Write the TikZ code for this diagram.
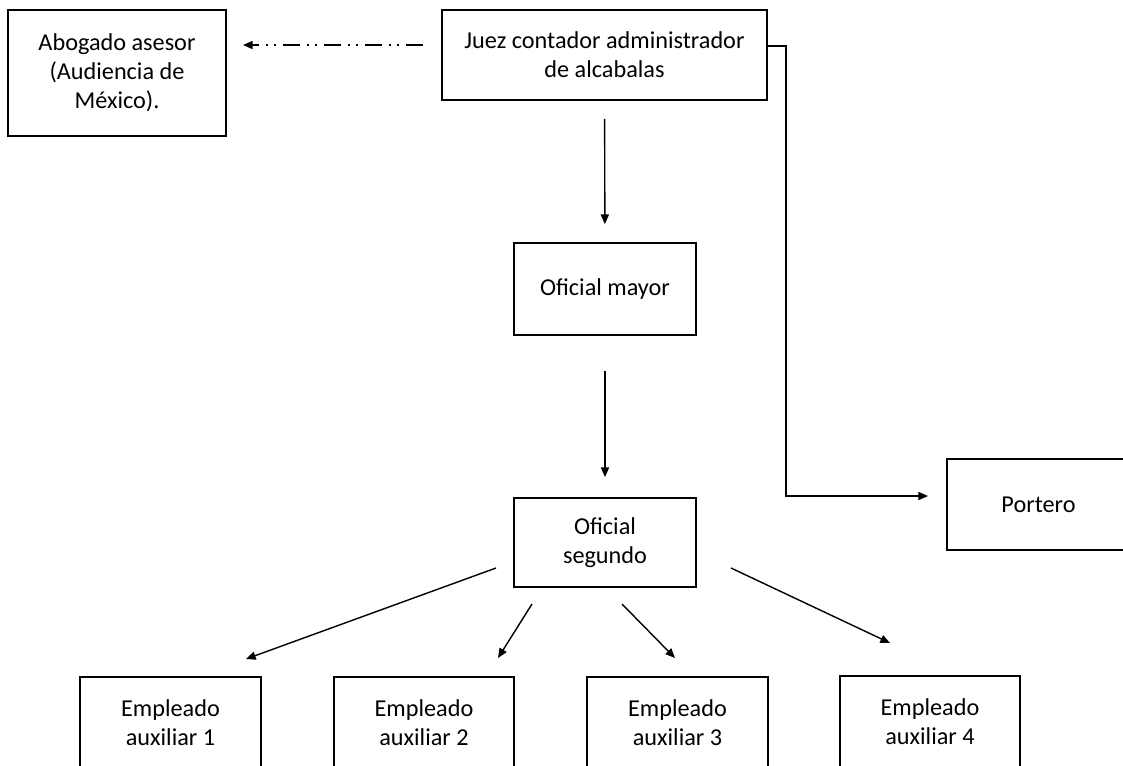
\documentclass[tikz,border=0pt]{standalone}
\usepackage{fontspec}
\setmainfont{Carlito}
\usetikzlibrary{arrows.meta}
\begin{document}
\begin{tikzpicture}[x=0.02cm,y=-0.02cm,
  box/.style={draw=black, line width=1pt, align=center, inner sep=0pt,
    font=\fontsize{13.8}{16.4}\selectfont},
  arr/.style={line width=0.8pt, -{Triangle[length=5.5pt,width=4.6pt]}},
  dashdotdot/.style={line width=0.8pt,
    dash pattern=on 0.34cm off 0.14cm on 0.04cm off 0.12cm on 0.04cm off 0.14cm}]
\useasboundingbox (0,0) rectangle (1123,765);
\clip (0,0) rectangle (1123,765);

% nodes
\node[box, minimum width=218*0.02cm, minimum height=126*0.02cm] (abog) at (117,73)
  {Abogado asesor\\(Audiencia de\\México).};
\node[box, minimum width=325*0.02cm, minimum height=90*0.02cm] (juez) at (604.5,55)
  {Juez contador administrador\\de alcabalas};
\node[box, minimum width=182*0.02cm, minimum height=92*0.02cm] (mayor) at (605,289)
  {Oficial mayor};
\node[box, minimum width=182*0.02cm, minimum height=89*0.02cm] (seg) at (605,542.5)
  {Oficial\\segundo};
\node[box, minimum width=183*0.02cm, minimum height=91*0.02cm] (port) at (1038.5,504.5)
  {Portero};
\node[box, minimum width=181*0.02cm, minimum height=92*0.02cm] (e1) at (170.5,723)
  {Empleado\\auxiliar 1};
\node[box, minimum width=180*0.02cm, minimum height=92*0.02cm] (e2) at (424,723)
  {Empleado\\auxiliar 2};
\node[box, minimum width=181*0.02cm, minimum height=92*0.02cm] (e3) at (677.5,723)
  {Empleado\\auxiliar 3};
\node[box, minimum width=180*0.02cm, minimum height=92*0.02cm] (e4) at (930,722)
  {Empleado\\auxiliar 4};

% connector end points
\coordinate (dA) at (423,45);
\coordinate (dB) at (243,45);
\coordinate (jr) at (juez.east |- 0,46);
\coordinate (pk1) at (786,46);
\coordinate (pk2) at (786,496);
\coordinate (pt) at (928,496);
\coordinate (s1) at (496,568);
\coordinate (t1) at (246,659);
\coordinate (s2) at (532,604);
\coordinate (t2) at (498,658);
\coordinate (s3) at (622,604);
\coordinate (t3) at (675,658);
\coordinate (s4) at (731,568);
\coordinate (t4) at (890,643);

% connectors
\draw[dashdotdot, -{Triangle[length=5.5pt,width=4.6pt]}] (dA) -- (dB);
\draw[arr, shorten <=18*0.02cm, shorten >=18*0.02cm] (juez) -- (mayor);
\draw[arr, shorten <=35*0.02cm, shorten >=20*0.02cm] (mayor) -- (seg);
\draw[arr] (jr) -- (pk1) -- (pk2) -- (pt);
\draw[arr] (s1) -- (t1);
\draw[arr] (s2) -- (t2);
\draw[arr] (s3) -- (t3);
\draw[arr] (s4) -- (t4);
\end{tikzpicture}
\end{document}
